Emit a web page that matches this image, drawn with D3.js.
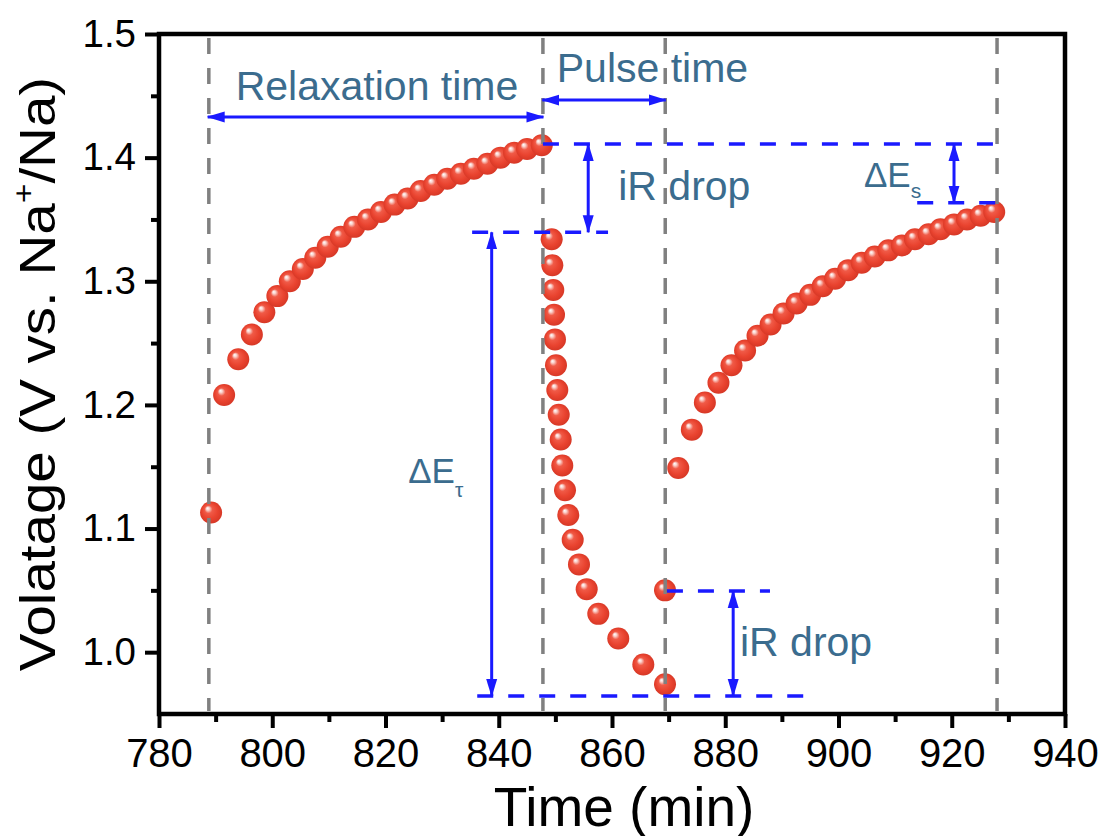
<!DOCTYPE html>
<html lang="en">
<head>
<meta charset="utf-8">
<title>Pulse / relaxation voltage profile</title>
<script src="https://d3js.org/d3.v7.min.js" charset="utf-8"></script>
<style>
body { margin: 0; background: #fff; }
svg text { font-family: "Liberation Sans", Arial, sans-serif; }
.note { fill: #3b6c8e; }
</style>
</head>
<body>
<div id="chart"></div>
<script>

// relaxation before the pulse
var relaxTime = [789.2, 791.5, 794.0, 796.4, 798.6, 800.9, 803.1, 805.4, 807.6, 809.8,
                 812.1, 814.5, 816.9, 819.2, 821.6, 823.9, 826.2, 828.6, 830.9, 833.3,
                 835.6, 838.0, 840.3, 842.7, 845.0, 847.6];
var relaxVolt = [1.113, 1.208, 1.237, 1.257, 1.275, 1.288, 1.300, 1.310, 1.319, 1.328,
                 1.336, 1.344, 1.350, 1.356, 1.362, 1.367, 1.373, 1.378, 1.383, 1.387,
                 1.391, 1.395, 1.400, 1.404, 1.407, 1.410];

// current pulse
var pulseTime = [849.35, 849.46, 849.63, 849.76, 849.93, 850.11, 850.34, 850.59, 850.94, 851.22,
                 851.7, 852.28, 853.06, 854.17, 855.53, 857.58, 861.11, 865.53, 869.36];
var pulseVolt = [1.334, 1.313, 1.293, 1.273, 1.253, 1.232, 1.212, 1.192, 1.172, 1.151,
                 1.131, 1.111, 1.091, 1.071, 1.051, 1.031, 1.011, 0.990, 0.974];

// relaxation after the pulse
var recoverTime = [869.36, 871.7, 874.1, 876.4, 878.8, 881.1, 883.5, 885.7, 888.0, 890.3,
                   892.6, 895.0, 897.2, 899.4, 901.7, 904.1, 906.4, 908.8, 911.2, 913.5,
                   915.9, 918.0, 920.4, 922.7, 925.1, 927.5];
var recoverVolt = [1.050, 1.149, 1.180, 1.202, 1.218, 1.232, 1.244, 1.256, 1.265, 1.274,
                   1.282, 1.289, 1.296, 1.302, 1.309, 1.315, 1.320, 1.325, 1.329, 1.334,
                   1.338, 1.342, 1.346, 1.350, 1.353, 1.356];

var xTicks = [780, 800, 820, 840, 860, 880, 900, 920, 940];
var xMinor = [790, 810, 830, 850, 870, 890, 910, 930];
var yTicks = [1.0, 1.1, 1.2, 1.3, 1.4, 1.5];
var yMinor = [1.05, 1.15, 1.25, 1.35, 1.45];

// vertical guide lines (start / end of each step)
var guideTimes = [788.8, 847.8, 869.4, 928.0];

var blue = "#1a1aff";

var width = 1103, height = 836;

var svg = d3.select("#chart")
  .append("svg")
    .attr("width", width)
    .attr("height", height);

var x = d3.scaleLinear().domain([780, 940]).range([159, 1065]);
var y = d3.scaleLinear().domain([0.95, 1.5]).range([714, 34]);

var defs = svg.append("defs");

// shiny ball for the markers
var grad = defs.append("radialGradient")
    .attr("id", "ball")
    .attr("cx", 0.5).attr("cy", 0.5).attr("r", 0.55)
    .attr("fx", 0.33).attr("fy", 0.3);
grad.append("stop").attr("offset", "0%").attr("stop-color", "#ffffff");
grad.append("stop").attr("offset", "13%").attr("stop-color", "#fad2cc");
grad.append("stop").attr("offset", "32%").attr("stop-color", "#f05a47");
grad.append("stop").attr("offset", "65%").attr("stop-color", "#e9432f");
grad.append("stop").attr("offset", "100%").attr("stop-color", "#d23524");

// arrow head
defs.append("marker")
    .attr("id", "head")
    .attr("viewBox", "0 -6 18 12")
    .attr("refX", 17)
    .attr("refY", 0)
    .attr("markerWidth", 18)
    .attr("markerHeight", 12)
    .attr("markerUnits", "userSpaceOnUse")
    .attr("orient", "auto-start-reverse")
  .append("path")
    .attr("d", "M0,-5.5L18,0L0,5.5Z")
    .attr("fill", blue);

// X axis
svg.append("g")
    .attr("class", "xaxis")
    .attr("transform", "translate(0,714)")
    .call(d3.axisBottom(x).tickValues(xTicks).tickFormat(d3.format("d"))
      .tickSize(14).tickSizeOuter(0).tickPadding(11));
svg.append("g")
    .attr("transform", "translate(0,714)")
    .call(d3.axisBottom(x).tickValues(xMinor).tickFormat("").tickSize(8).tickSizeOuter(0));

// Y axis
svg.append("g")
    .attr("class", "yaxis")
    .attr("transform", "translate(159,0)")
    .call(d3.axisLeft(y).tickValues(yTicks).tickFormat(d3.format(".1f"))
      .tickSize(14).tickSizeOuter(0).tickPadding(9));
svg.append("g")
    .attr("transform", "translate(159,0)")
    .call(d3.axisLeft(y).tickValues(yMinor).tickFormat("").tickSize(8).tickSizeOuter(0));

svg.selectAll(".domain").remove();
svg.selectAll(".tick line").attr("stroke", "#000").attr("stroke-width", 4);
svg.selectAll(".tick text")
    .attr("fill", "#000")
    .style("font-family", "'Liberation Sans', Arial, sans-serif");
svg.selectAll(".xaxis .tick text").style("font-size", "40px");
svg.selectAll(".yaxis .tick text").style("font-size", "38.5px");

// frame
svg.append("rect")
    .attr("x", x(780))
    .attr("y", y(1.5))
    .attr("width", x(940) - x(780))
    .attr("height", y(0.95) - y(1.5))
    .attr("fill", "none")
    .attr("stroke", "#000")
    .attr("stroke-width", 4.5);

// axis titles
svg.append("text")
    .attr("x", 624)
    .attr("y", 826)
    .attr("text-anchor", "middle")
    .style("font-size", "55px")
    .text("Time (min)");

// the original title is a bit elongated along its length
var yt = svg.append("text")
    .attr("transform", "translate(55,374) rotate(-90) scale(1.13,1)")
    .attr("text-anchor", "middle")
    .style("font-size", "50px");
yt.append("tspan").text("Volatage (V vs. Na");
yt.append("tspan").attr("dy", -21).style("font-size", "30px").text("+");
yt.append("tspan").attr("dy", 21).text("/Na)");

// data points
var points = [];
relaxTime.forEach(function(t, i) { points.push([t, relaxVolt[i]]); });
pulseTime.forEach(function(t, i) { points.push([t, pulseVolt[i]]); });
recoverTime.forEach(function(t, i) { points.push([t, recoverVolt[i]]); });

svg.append("g").selectAll("circle")
    .data(points)
  .enter().append("circle")
    .attr("cx", function(d) { return x(d[0]); })
    .attr("cy", function(d) { return y(d[1]); })
    .attr("r", 11)
    .attr("fill", "url(#ball)");

// gray dashed guides
svg.append("g").selectAll("line")
    .data(guideTimes)
  .enter().append("line")
    .attr("x1", function(d) { return x(d); })
    .attr("x2", function(d) { return x(d); })
    .attr("y1", y(1.5) + 4)
    .attr("y2", y(0.95) - 3)
    .attr("stroke", "#808080")
    .attr("stroke-width", 3.5)
    .attr("stroke-dasharray", "16,14");

// blue dashed levels
var levels = [
  {v: 1.411, t0: 847.8, t1: 928.0},
  {v: 1.3396, t0: 835.3, t1: 859.3},
  {v: 1.3636, t0: 913.9, t1: 928.0},
  {v: 1.0495, t0: 869.7, t1: 887.9},
  {v: 0.9646, t0: 836.2, t1: 895.3}
];
svg.append("g").selectAll("line")
    .data(levels)
  .enter().append("line")
    .attr("x1", function(d) { return x(d.t0); })
    .attr("x2", function(d) { return x(d.t1); })
    .attr("y1", function(d) { return y(d.v); })
    .attr("y2", function(d) { return y(d.v); })
    .attr("stroke", blue)
    .attr("stroke-width", 3.5)
    .attr("stroke-dasharray", "16,15");

// double arrows
var arrows = [
  {t0: 788.6, t1: 847.9, v0: 1.4329, v1: 1.4329},
  {t0: 847.7, t1: 869.5, v0: 1.4466, v1: 1.4466},
  {t0: 855.8, t1: 855.8, v0: 1.411, v1: 1.3396},
  {t0: 838.75, t1: 838.75, v0: 1.3396, v1: 0.9646},
  {t0: 920.4, t1: 920.4, v0: 1.411, v1: 1.3636},
  {t0: 881.4, t1: 881.4, v0: 1.0495, v1: 0.9646}
];
svg.append("g").selectAll("line")
    .data(arrows)
  .enter().append("line")
    .attr("x1", function(d) { return x(d.t0); })
    .attr("x2", function(d) { return x(d.t1); })
    .attr("y1", function(d) { return y(d.v0); })
    .attr("y2", function(d) { return y(d.v1); })
    .attr("stroke", blue)
    .attr("stroke-width", 3)
    .attr("marker-start", "url(#head)")
    .attr("marker-end", "url(#head)");

// annotation text
function note(t, v, txt, size) {
  return svg.append("text")
    .attr("class", "note")
    .attr("x", x(t))
    .attr("y", y(v))
    .style("font-size", size + "px")
    .text(txt);
}
note(818.5, 1.4466, "Relaxation time", 41).attr("text-anchor", "middle");
note(867.15, 1.4612, "Pulse time", 41).attr("text-anchor", "middle");
note(861.1, 1.3657, "iR drop", 41);
note(882.6, 0.9969, "iR drop", 41);

var es = note(904.5, 1.3763, "\u0394E", 35);
es.append("tspan").attr("dy", 11).style("font-size", "21px").text("s");

var et = note(824.0, 1.1369, "\u0394E", 35);
et.append("tspan").attr("dy", 14).style("font-size", "21px").text("\u03c4");

</script>
</body>
</html>
